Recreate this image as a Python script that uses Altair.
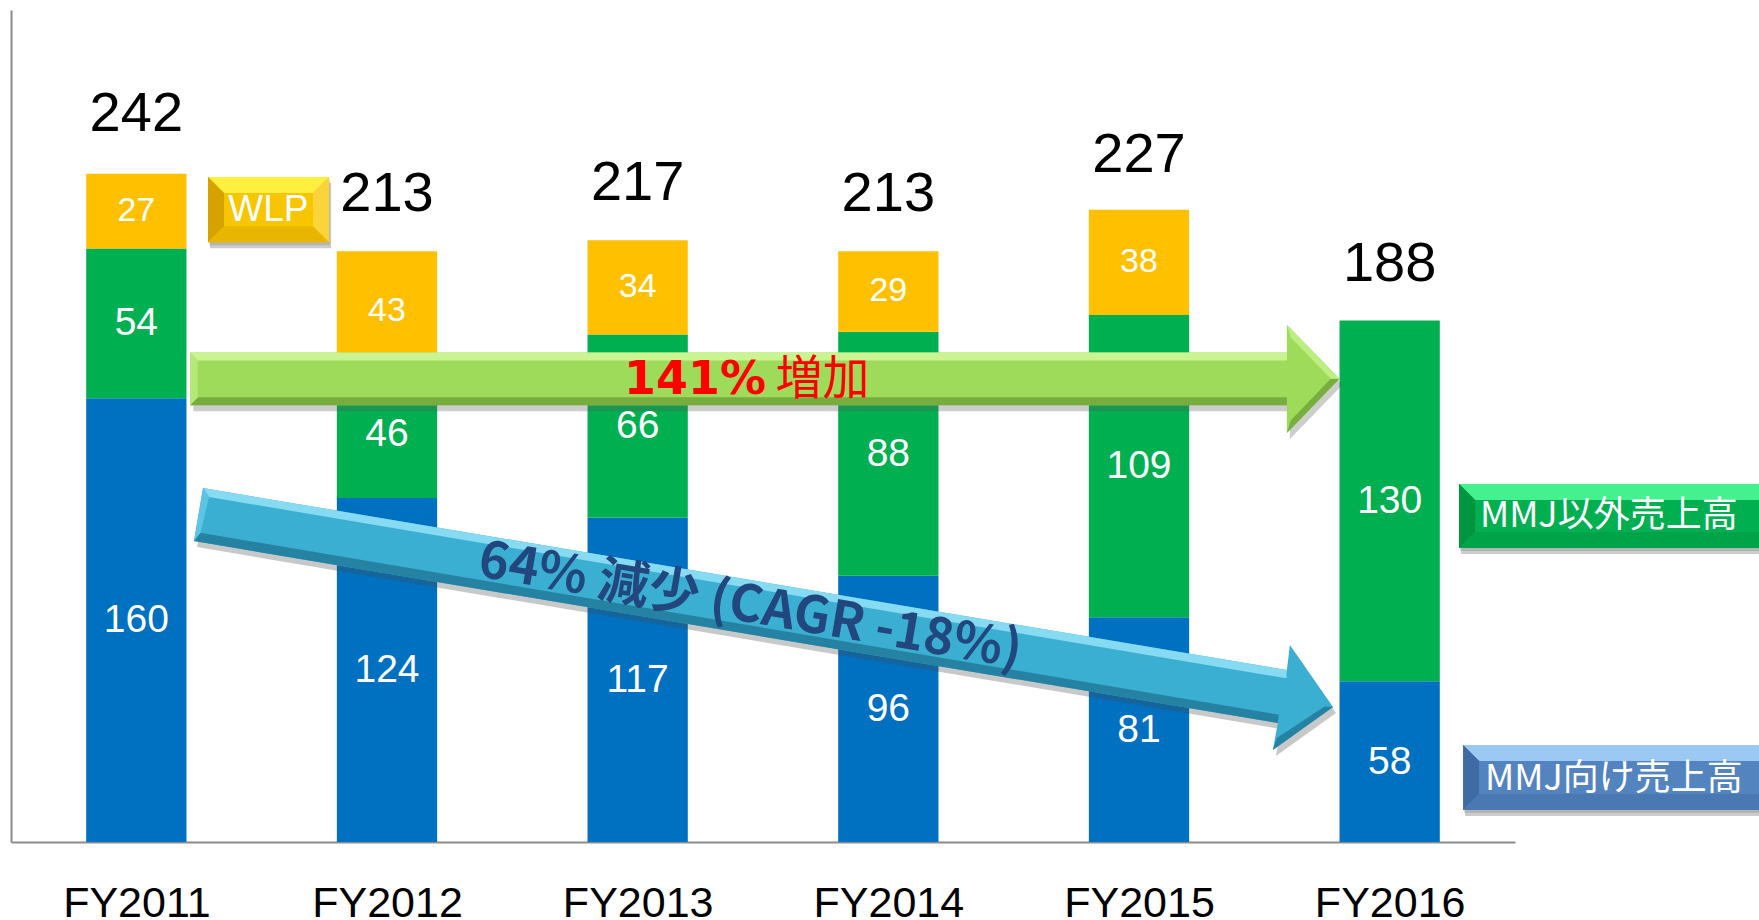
import altair as alt
import pandas as pd

# ---- data -----------------------------------------------------------------
years = ["FY2011", "FY2012", "FY2013", "FY2014", "FY2015", "FY2016"]
mmj_sales = [160, 124, 117, 96, 81, 58]        # MMJ向け売上高
other_sales = [54, 46, 66, 88, 109, 130]       # MMJ以外売上高
wlp_sales = [27, 43, 34, 29, 38, None]         # WLP (none in FY2016)
totals = [242, 213, 217, 213, 227, 188]

series_names = ["MMJ向け売上高", "MMJ以外売上高", "WLP"]
series_colors = ["#0070C0", "#00B050", "#FFC000"]

# ---- layout ---------------------------------------------------------------
W, H = 1504, 832
Y_MAX = 300
PX_X = W / 6.0          # pixels per category slot
PX_Y = H / Y_MAX        # pixels per value unit
BAR_HALF = 0.2          # half bar width, in slots

# stacked segments: slot i spans [i, i+1], bar centred at i + 0.5
rows = []
for i, y in enumerate(years):
    base = 0
    for k, vals in enumerate([mmj_sales, other_sales, wlp_sales]):
        v = vals[i]
        if v is None:
            continue
        rows.append({"year": y, "slot": i + 0.5, "series": series_names[k], "value": v,
                     "lo": base, "hi": base + v, "mid": base + v / 2.0})
        base += v
seg_df = pd.DataFrame(rows)
seg_df["x0"] = seg_df["slot"] - BAR_HALF
seg_df["x1"] = seg_df["slot"] + BAR_HALF
tot_df = pd.DataFrame({"year": years, "slot": [i + 0.5 for i in range(len(years))],
                       "total": totals})

y_scale = alt.Scale(domain=[0, Y_MAX], nice=False, zero=True)
x_scale = alt.Scale(domain=[0, len(years)], nice=False, zero=False)

label_expr = "[" + ",".join("'%s'" % y for y in years) + "][floor(datum.value)]"
x_axis = alt.Axis(values=[i + 0.5 for i in range(len(years))], labelExpr=label_expr,
                  labelAngle=0, labelFlush=False, labelOverlap=False,
                  labelFont="Liberation Sans", labelFontSize=43,
                  labelColor="#000000", labelPadding=40)
y_axis = alt.Axis(labels=False, values=[0])


def X(field, **kw):
    return alt.X(field, scale=x_scale, title=None, **kw)


def Y(field, **kw):
    return alt.Y(field, scale=y_scale, title=None, **kw)


bars = alt.Chart(seg_df).mark_rect().encode(
    x=X("x0:Q", axis=x_axis), x2="x1:Q",
    y=Y("lo:Q", axis=y_axis), y2="hi:Q",
    color=alt.Color("series:N", scale=alt.Scale(domain=series_names, range=series_colors),
                    legend=None),
)

seg_big = alt.Chart(seg_df).transform_filter(alt.datum.series != "WLP").mark_text(
    font="Liberation Sans", fontSize=39, color="white", baseline="middle").encode(
    x=X("slot:Q"), y=Y("mid:Q"), text="value:Q")

seg_small = alt.Chart(seg_df).transform_filter(alt.datum.series == "WLP").mark_text(
    font="Liberation Sans", fontSize=34, color="white", baseline="middle").encode(
    x=X("slot:Q"), y=Y("mid:Q"), text="value:Q")

tot_text = alt.Chart(tot_df).mark_text(
    font="Liberation Sans", fontSize=56, color="black", baseline="alphabetic", dy=-40).encode(
    x=X("slot:Q"), y=Y("total:Q"), text="total:Q")


# ---- annotation helpers (x in slots, y in value units) ----------------------
def polygon(points, color, opacity=1.0):
    df = pd.DataFrame({"ax": [p[0] for p in points],
                       "ay": [p[1] for p in points],
                       "i": list(range(len(points)))})
    return alt.Chart(df).mark_line(filled=True, color=color, opacity=opacity,
                                   strokeWidth=0).encode(
        x=X("ax:Q"), y=Y("ay:Q"), order="i:Q")


def label(x, y, text, **kw):
    df = pd.DataFrame({"ax": [x], "ay": [y], "t": [text]})
    return alt.Chart(df).mark_text(**kw).encode(x=X("ax:Q"), y=Y("ay:Q"), text="t:N")


def shift(points, dx_px, dy_px):
    return [(x + dx_px / PX_X, y - dy_px / PX_Y) for x, y in points]


def bevel_box(x0, x1, y0, y1, base, light, dark, mid, side):
    bx, by = 16 / PX_X, 16 / PX_Y
    rect = [(x0, y0), (x0, y1), (x1, y1), (x1, y0)]
    layers = [polygon(shift(rect, 2, 6), "#6d6d6d", 0.35),
              polygon(shift(rect, 1, 3), "#6d6d6d", 0.25),
              polygon(rect, base)]
    layers.append(polygon([(x0, y1), (x1, y1), (x1 - bx, y1 - by), (x0 + bx, y1 - by)], light))
    layers.append(polygon([(x0, y0), (x0, y1), (x0 + bx, y1 - by), (x0 + bx, y0 + by)], dark))
    layers.append(polygon([(x0, y0), (x1, y0), (x1 - bx, y0 + by), (x0 + bx, y0 + by)], mid))
    layers.append(polygon([(x1, y0), (x1, y1), (x1 - bx, y1 - by), (x1 - bx, y0 + by)], side))
    return layers


# green arrow: growth of non-MMJ sales
g_arrow = [(0.715, 176.5), (5.09, 176.5), (5.09, 186.5), (5.30, 167.0),
           (5.09, 147.5), (5.09, 157.5), (0.715, 157.5)]
g_top = [(0.715, 176.5), (5.09, 176.5), (5.09, 173.6), (0.745, 173.6)]
g_bot = [(0.715, 157.5), (5.09, 157.5), (5.09, 160.4), (0.745, 160.4)]
g_left = [(0.715, 157.5), (0.715, 176.5), (0.745, 173.6), (0.745, 160.4)]
g_head_lo = [(5.09, 147.5), (5.30, 167.0), (5.265, 167.0), (5.105, 152.0)]
g_head_hi = [(5.09, 186.5), (5.30, 167.0), (5.265, 167.0), (5.105, 182.0)]

# blue arrow: decline of MMJ sales
b_arrow = [(0.766, 127.6), (5.090, 62.0), (5.102, 71.0), (5.274, 48.7),
           (5.034, 33.2), (5.054, 42.9), (0.730, 108.5)]
b_top = [(0.766, 127.6), (5.090, 62.0), (5.088, 59.0), (0.790, 124.4)]
b_bot = [(0.730, 108.5), (5.054, 42.9), (5.058, 45.9), (0.756, 111.5)]
b_left = [(0.730, 108.5), (0.766, 127.6), (0.790, 124.4), (0.756, 111.5)]
b_head_lo = [(5.034, 33.2), (5.274, 48.7), (5.240, 48.9), (5.050, 37.5)]

notes = []
notes += [polygon(shift(g_arrow, 3, 6), "#5a5a5a", 0.30),
          polygon(g_arrow, "#9EDB5A"),
          polygon(g_top, "#C9F491"), polygon(g_bot, "#76AD3E"),
          polygon(g_left, "#B6E878"),
          polygon(g_head_lo, "#78AE40"), polygon(g_head_hi, "#BDEE80")]

notes += [polygon(shift(b_arrow, 3, 6), "#4a4a4a", 0.30),
          polygon(b_arrow, "#3AAFD2"),
          polygon(b_top, "#86DAF2"), polygon(b_bot, "#2682A3"),
          polygon(b_left, "#5CC4E4"), polygon(b_head_lo, "#2682A3")]

notes += [
    label(3.012, 166.6, "141%", font="DejaVu Sans", fontWeight="bold", fontSize=46,
          color="#FF0000", align="right", baseline="middle"),
    label(3.050, 166.6, "増加", font="Noto Sans CJK JP", fontSize=47,
          color="#FF0000", align="left", baseline="middle"),
    label(2.948, 84.7, "64% 減少 (CAGR -18%)", font="Noto Sans CJK JP", fontWeight="bold",
          fontSize=51, color="#22477F", align="center", baseline="middle", angle=9.6),
]

# callout boxes
notes += bevel_box(0.786, 1.269, 216.3, 239.8, "#F7C600", "#FFF040", "#D6A200", "#E8B600", "#FAD43A")
notes += bevel_box(5.777, 7.3, 106.0, 129.1, "#00B050", "#45F08F", "#009640", "#00A448", "#20C868")
notes += bevel_box(5.793, 7.3, 11.5, 35.0, "#5484C0", "#9CC8F4", "#3E6BA3", "#4A78B2", "#6C98D0")

notes += [
    label(1.027, 228.0, "WLP", font="Liberation Sans", fontSize=37, color="white",
          align="center", baseline="middle"),
    label(5.860, 117.6, "MMJ以外売上高", font="Noto Sans CJK JP", fontSize=36, color="white",
          align="left", baseline="middle"),
    label(5.880, 22.8, "MMJ向け売上高", font="Noto Sans CJK JP", fontSize=36, color="white",
          align="left", baseline="middle"),
]

chart = alt.layer(bars, seg_big, seg_small, tot_text, *notes).properties(
    width=W, height=H,
    autosize=alt.AutoSizeParams(type="none"),
    padding={"left": 11, "top": 10, "right": 1759 - 11 - W, "bottom": 920 - 10 - H},
    background="white",
).configure_view(stroke=None).configure_axis(
    ticks=False, tickSize=0, grid=False, domain=True,
    domainColor="#8c8c8c", domainWidth=2, zindex=1,
)

chart.save("out.html", embed_options={"renderer": "svg", "actions": False})
